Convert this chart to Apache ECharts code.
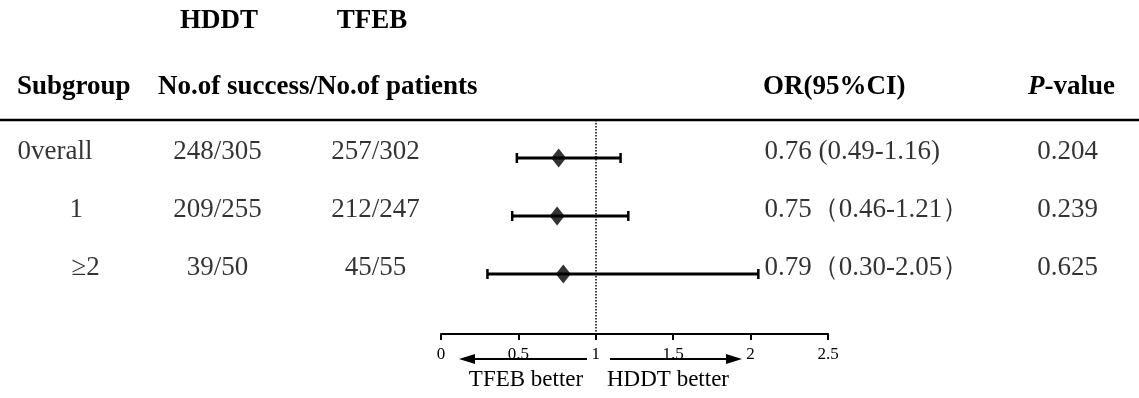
<!DOCTYPE html>
<html><head><meta charset="utf-8">
<script src="https://cdn.jsdelivr.net/npm/echarts@6/dist/echarts.min.js"></script>
<style>html,body{margin:0;padding:0;background:#fff}#c{width:1139px;height:398px}</style>
</head><body><div id="c"></div>
<script>
// ---- data ----
const subgroups = ['0verall', '1', '≥2'];
const hddtCounts = ['248/305', '209/255', '39/50'];
const tfebCounts = ['257/302', '212/247', '45/55'];
const orValues = [0.76, 0.75, 0.79];
const ciLower = [0.49, 0.46, 0.30];
const ciUpper = [1.16, 1.21, 2.05];
const orTexts = ['0.76 (0.49-1.16)', '0.75（0.46-1.21）', '0.79（0.30-2.05）'];
const pValues = ['0.204', '0.239', '0.625'];
const xTickMin = 0, xTickMax = 2.5, xTickStep = 0.5;
const refValue = 1;

// ---- layout (pixels) ----
const FONT = '"Liberation Serif","Times New Roman",serif';
const subgroupX = [18, 70, 72];
const colX = { hddt: 218, tfeb: 376, or: 765, p: 1068 };

const chart = echarts.init(document.getElementById('c'), null, { renderer: 'canvas' });
const rowOf = i => i + 1;

function textSeries(xs, texts, align) {
  return {
    type: 'scatter', xAxisIndex: 1, yAxisIndex: 1, symbolSize: 1, silent: true,
    itemStyle: { color: 'transparent' },
    data: texts.map((t, i) => [Array.isArray(xs) ? xs[i] : xs, rowOf(i), t]),
    label: {
      show: true, position: [0, 0], align: align, verticalAlign: 'middle', offset: [0, -6],
      formatter: p => p.data[2], fontFamily: FONT, fontSize: 27, color: '#000'
    }
  };
}

const yAx = { type: 'value', inverse: true, min: 0.345, max: 4.035, show: false };
const hdr = (x, y, text, align) => ({
  type: 'text', x: x, y: y, silent: true,
  style: { text: text, align: align, verticalAlign: 'middle', fontFamily: FONT, fontSize: 27, fontWeight: 'bold', fill: '#000' }
});

chart.setOption({
  animation: false,
  backgroundColor: '#fff',
  grid: [
    { left: 441, right: 311, top: 120, height: 214 },
    { left: 0, right: 0, top: 120, height: 214 }
  ],
  xAxis: [
    {
      type: 'value', gridIndex: 0, min: xTickMin, max: xTickMax, interval: xTickStep,
      axisLine: { show: true, lineStyle: { color: '#000', width: 2 } },
      axisTick: { show: true, length: 6, lineStyle: { color: '#000', width: 2 } },
      axisLabel: { fontFamily: FONT, fontSize: 17, color: '#000', margin: 12 },
      splitLine: { show: false }
    },
    { type: 'value', gridIndex: 1, min: 0, max: 1139, show: false }
  ],
  yAxis: [Object.assign({ gridIndex: 0 }, yAx), Object.assign({ gridIndex: 1 }, yAx)],
  series: [
    {
      type: 'custom', xAxisIndex: 0, yAxisIndex: 0, silent: true,
      data: ciLower.map((l, i) => [l, ciUpper[i], rowOf(i)]),
      encode: { x: [0, 1], y: 2 },
      renderItem: function (params, api) {
        const y = api.value(2);
        const p1 = api.coord([api.value(0), y]);
        const p2 = api.coord([api.value(1), y]);
        const h = 5;
        return { type: 'group', children: [
          { type: 'line', shape: { x1: p1[0], y1: p1[1], x2: p2[0], y2: p2[1] }, style: { stroke: '#000', lineWidth: 3 } },
          { type: 'line', shape: { x1: p1[0], y1: p1[1] - h, x2: p1[0], y2: p1[1] + h }, style: { stroke: '#000', lineWidth: 2.5 } },
          { type: 'line', shape: { x1: p2[0], y1: p2[1] - h, x2: p2[0], y2: p2[1] + h }, style: { stroke: '#000', lineWidth: 2.5 } }
        ] };
      },
      markLine: {
        silent: true, symbol: 'none', label: { show: false },
        lineStyle: { color: '#000', type: 'dotted', width: 1.5 },
        data: [{ xAxis: refValue }]
      },
      z: 2
    },
    {
      type: 'scatter', xAxisIndex: 0, yAxisIndex: 0, silent: true,
      symbol: 'diamond', symbolSize: [15, 19],
      itemStyle: { color: '#000' },
      data: orValues.map((v, i) => [v, rowOf(i)]),
      z: 3
    },
    textSeries(subgroupX, subgroups, 'left'),
    textSeries(colX.hddt, hddtCounts, 'center'),
    textSeries(colX.tfeb, tfebCounts, 'center'),
    textSeries(colX.or, orTexts, 'left'),
    textSeries(colX.p, pValues, 'center')
  ],
  graphic: [
    hdr(219, 21, 'HDDT', 'center'),
    hdr(372, 21, 'TFEB', 'center'),
    hdr(17, 87, 'Subgroup', 'left'),
    hdr(158, 87, 'No.of success/No.of patients', 'left'),
    hdr(763, 87, 'OR(95%CI)', 'left'),
    {
      type: 'text', x: 1028, y: 87, silent: true,
      style: {
        text: '{i|P}{b|-value}', align: 'left', verticalAlign: 'middle',
        rich: {
          i: { fontFamily: FONT, fontSize: 27, fontWeight: 'bold', fontStyle: 'italic', fill: '#000' },
          b: { fontFamily: FONT, fontSize: 27, fontWeight: 'bold', fill: '#000' }
        }
      }
    },
    { type: 'line', silent: true, shape: { x1: 0, y1: 120, x2: 1139, y2: 120 }, style: { stroke: '#000', lineWidth: 2.5 } },
    // arrows
    { type: 'line', silent: true, shape: { x1: 587, y1: 359, x2: 470, y2: 359 }, style: { stroke: '#000', lineWidth: 2 } },
    { type: 'polygon', silent: true, shape: { points: [[459, 359], [475, 354], [475, 364]] }, style: { fill: '#000' } },
    { type: 'line', silent: true, shape: { x1: 610, y1: 359, x2: 730, y2: 359 }, style: { stroke: '#000', lineWidth: 2 } },
    { type: 'polygon', silent: true, shape: { points: [[742, 359], [726, 354], [726, 364]] }, style: { fill: '#000' } },
    { type: 'text', x: 526, y: 380, silent: true, style: { text: 'TFEB better', align: 'center', verticalAlign: 'middle', fontFamily: FONT, fontSize: 23, fill: '#000' } },
    { type: 'text', x: 668, y: 380, silent: true, style: { text: 'HDDT better', align: 'center', verticalAlign: 'middle', fontFamily: FONT, fontSize: 23, fill: '#000' } }
  ]
});
</script>
</body></html>
